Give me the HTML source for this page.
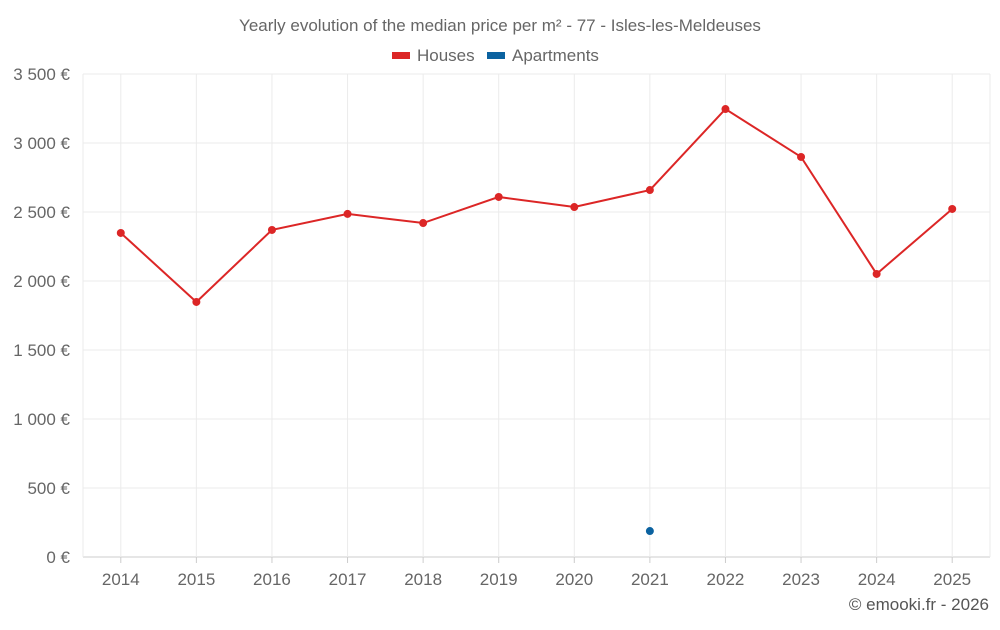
<!DOCTYPE html>
<html><head><meta charset="utf-8">
<style>
body{margin:0;background:#fff;font-family:"Liberation Sans",sans-serif;}
svg text{font-family:"Liberation Sans",sans-serif;}
</style></head>
<body>
<svg id="chart" width="1000" height="625" xmlns="http://www.w3.org/2000/svg">
<text x="500" y="31" text-anchor="middle" font-size="17" fill="#666">Yearly evolution of the median price per m² - 77 - Isles-les-Meldeuses</text>
<g><rect x="392" y="52" width="18" height="7" fill="#dc2626"/><text x="417" y="61" font-size="17" fill="#666">Houses</text></g>
<g><rect x="487" y="52" width="18" height="7" fill="#0b62a0"/><text x="512" y="61" font-size="17" fill="#666">Apartments</text></g>
<g id="grid"></g><g id="axes"></g><g id="series"></g>
<text x="989" y="610" text-anchor="end" font-size="17" fill="#555">© emooki.fr - 2026</text>
</svg>
<script>
const years=["2014","2015","2016","2017","2018","2019","2020","2021","2022","2023","2024","2025"];
const houses=[2348,1848,2370,2486,2420,2609,2536,2659,3246,2899,2051,2522];
const apartments=[null,null,null,null,null,null,null,188,null,null,null,null];
const yTicks=[0,500,1000,1500,2000,2500,3000,3500];
const yLabels=["0 €","500 €","1 000 €","1 500 €","2 000 €","2 500 €","3 000 €","3 500 €"];
const L=83,R=990,T=74,B=557,maxV=3500;
const NS="http://www.w3.org/2000/svg";
const bw=(R-L)/years.length;
const xs=i=>L+bw*(i+0.5);
const ys=v=>B-(v/maxV)*(B-T);
function mk(tag,attrs,parent){const e=document.createElementNS(NS,tag);for(const k in attrs)e.setAttribute(k,attrs[k]);parent.appendChild(e);return e;}
const grid=document.getElementById('grid'),axes=document.getElementById('axes'),ser=document.getElementById('series');
yTicks.forEach((t,i)=>{
 const y=ys(t);
 const l=mk('line',{x1:L,x2:R,y1:y,y2:y,stroke:i===0?'#ccc':'#ebebeb','stroke-width':1},grid);
 
 
 const tx=mk('text',{x:70,y:y+6,'text-anchor':'end','font-size':17,fill:'#666'},axes);
 tx.textContent=yLabels[i];
 
 
});
[L,R].forEach(x=>{
 const l=mk('line',{x1:x,x2:x,y1:T,y2:B,stroke:'#ebebeb','stroke-width':1},grid);
 
 
});
years.forEach((yr,i)=>{
 const g=mk('line',{x1:xs(i),x2:xs(i),y1:T,y2:B,stroke:'#ebebeb','stroke-width':1},grid);
 
 
 const tk=mk('line',{x1:xs(i),x2:xs(i),y1:B,y2:B+6,stroke:'#ccc'},axes);
 
 
 const tx=mk('text',{x:xs(i),y:585,'text-anchor':'middle','font-size':17,fill:'#666'},axes);
 tx.textContent=yr;
 
 
});
const pts=houses.map((v,i)=>v==null?null:xs(i)+','+ys(v)).filter(p=>p).join(' ');
const pl=mk('polyline',{points:pts,fill:'none',stroke:'#dc2626','stroke-width':2},ser);


houses.forEach((v,i)=>{if(v==null)return;
 const c=mk('circle',{cx:xs(i),cy:ys(v),r:4,fill:'#dc2626'},ser);
 
 
});
apartments.forEach((v,i)=>{if(v==null)return;
 const c=mk('circle',{cx:xs(i),cy:ys(v),r:4,fill:'#0b62a0'},ser);
 
 
});
</script>
</body></html>
